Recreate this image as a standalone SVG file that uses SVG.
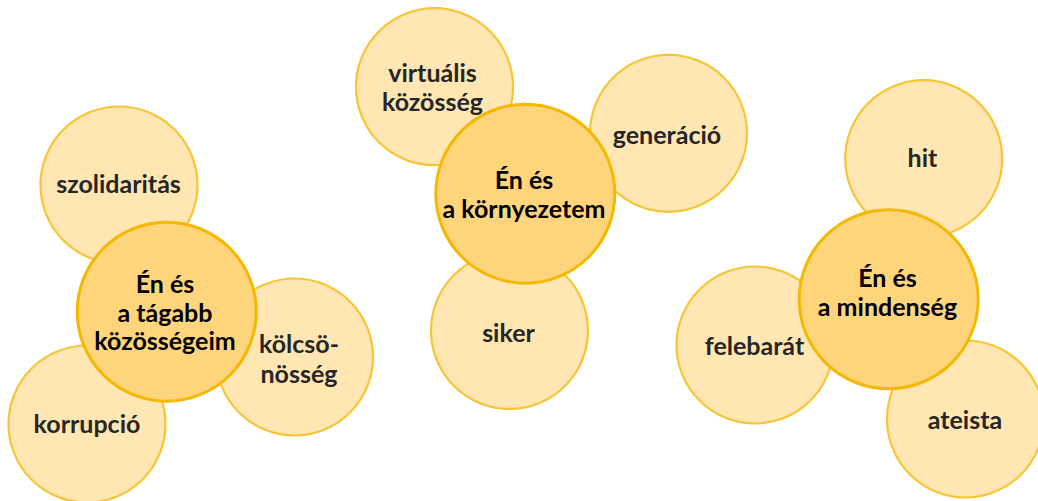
<svg xmlns="http://www.w3.org/2000/svg" width="1038" height="501" viewBox="0 0 1038 501">
<style>
.s{fill:#FFE6B3;stroke:#F7C533;stroke-width:2.2}
.c{fill:#FFD57C;stroke:#F5B800;stroke-width:3}
text{font-family:Lato,"Liberation Sans",sans-serif;font-weight:bold;font-size:25px;text-anchor:middle}
.st{fill:#262626}
.ct{fill:#000}
</style>
<rect width="1038" height="501" fill="#fff"/>
<g id="connectors"></g>
<g id="szolidaritas"><circle class="s" cx="119" cy="185" r="78.5"/><text class="st" x="118.5" y="193">szolidaritás</text></g>
<g id="korrupcio"><circle class="s" cx="87" cy="424" r="78.5"/><text class="st" x="87" y="433">korrupció</text></g>
<g id="kolcsonosseg"><circle class="s" cx="294.5" cy="357" r="78.5"/><text class="st" x="299" y="353">kölcsö-</text><text class="st" x="299" y="383">nösség</text></g>
<g id="tagabb"><circle class="c" cx="166.7" cy="311.7" r="89.5"/><text class="ct" x="165" y="293">Én és</text><text class="ct" x="165" y="321.5">a tágabb</text><text class="ct" x="165" y="350">közösségeim</text></g>
<g id="virtualis"><circle class="s" cx="434.5" cy="86.7" r="78.5"/><text class="st" x="432.5" y="81.5">virtuális</text><text class="st" x="432.5" y="110.5">közösség</text></g>
<g id="generacio"><circle class="s" cx="668.5" cy="133.3" r="78.5"/><text class="st" x="667" y="144">generáció</text></g>
<g id="siker"><circle class="s" cx="509.5" cy="330.5" r="78.5"/><text class="st" x="508.5" y="341.5">siker</text></g>
<g id="kornyezetem"><circle class="c" cx="525.3" cy="193.7" r="89.5"/><text class="ct" x="524" y="189">Én és</text><text class="ct" x="524" y="218">a környezetem</text></g>
<g id="hit"><circle class="s" cx="923.7" cy="158.7" r="78.5"/><text class="st" x="922.5" y="167">hit</text></g>
<g id="felebarat"><circle class="s" cx="755" cy="345" r="78.5"/><text class="st" x="754.5" y="355">felebarát</text></g>
<g id="ateista"><circle class="s" cx="965.5" cy="419" r="78.5"/><text class="st" x="965" y="428.5">ateista</text></g>
<g id="mindenseg"><circle class="c" cx="888.7" cy="299.3" r="89.5"/><text class="ct" x="887.5" y="286.5">Én és</text><text class="ct" x="887.5" y="316">a mindenség</text></g>
</svg>
